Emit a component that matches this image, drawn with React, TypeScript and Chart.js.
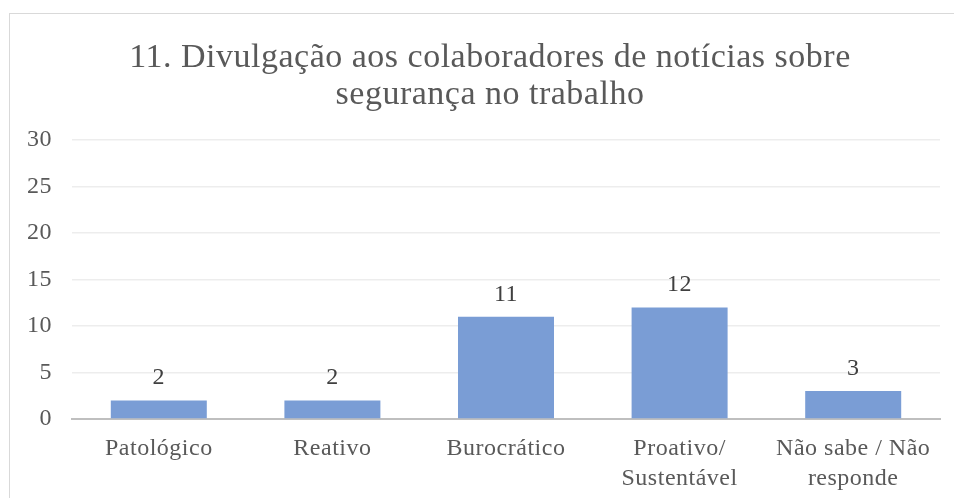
import React, { useEffect, useRef } from "react";
import { Chart, registerables } from "chart.js";

Chart.register(...registerables);

const titleLines = ["11. Divulgação aos colaboradores de notícias sobre", "segurança no trabalho"];
const categories = [["Patológico"], ["Reativo"], ["Burocrático"], ["Proativo/", "Sustentável"], ["Não sabe / Não", "responde"]];
const values = [2, 2, 11, 12, 3];
const yMin = 0;
const yMax = 30;
const yStep = 5;

const FONT = '"Liberation Serif", "Times New Roman", serif';
const SPACING = "0.5px";
const TITLE_SIZE = 34;
const TITLE_LH = 1.09;
const TITLE_PAD_TOP = 39.5;

const spacingPlugin = {
  id: "spacing",
  beforeUpdate(chart: any) {
    chart.ctx.letterSpacing = SPACING;
  },
  beforeDraw(chart: any) {
    chart.ctx.letterSpacing = SPACING;
  },
};

const titleDrawer = {
  id: "titleDrawer",
  afterDraw(chart: any) {
    const ctx = chart.ctx;
    const tb = chart.titleBlock;
    if (!tb) return;
    const lh = TITLE_SIZE * TITLE_LH;
    ctx.save();
    ctx.letterSpacing = SPACING;
    ctx.font = `${TITLE_SIZE}px ${FONT}`;
    ctx.fillStyle = "#595959";
    ctx.textAlign = "center";
    ctx.textBaseline = "middle";
    const cx = chart.width / 2 + 13;
    titleLines.forEach((line, i) => {
      ctx.fillText(line, cx, tb.top + TITLE_PAD_TOP + lh * (i + 0.5));
    });
    ctx.restore();
  },
};

const dataLabels = {
  id: "dataLabels",
  afterDatasetsDraw(chart: any) {
    const ctx = chart.ctx;
    const meta = chart.getDatasetMeta(0);
    ctx.save();
    ctx.letterSpacing = SPACING;
    ctx.font = `24px ${FONT}`;
    ctx.fillStyle = "#404040";
    ctx.textAlign = "center";
    ctx.textBaseline = "alphabetic";
    meta.data.forEach((bar: any, i: number) => {
      ctx.fillText(String(values[i]), bar.x, bar.y - 16);
    });
    ctx.restore();
  },
};

export default function App() {
  const ref = useRef<HTMLCanvasElement>(null);
  useEffect(() => {
    if (!ref.current) return;
    const chart = new Chart(ref.current, {
      type: "bar",
      data: {
        labels: categories,
        datasets: [
          {
            data: values,
            backgroundColor: "#7A9DD5",
            borderWidth: 0,
            categoryPercentage: 1,
            barPercentage: 0.553,
          },
        ],
      },
      options: {
        animation: false,
        responsive: true,
        maintainAspectRatio: false,
        layout: { padding: { left: 7, right: 14, top: 0, bottom: -11 } },
        plugins: {
          legend: { display: false },
          tooltip: { enabled: false },
          title: {
            display: true,
            text: titleLines,
            color: "rgba(0,0,0,0)",
            font: { family: FONT, size: TITLE_SIZE, weight: "normal", lineHeight: TITLE_LH },
            padding: { top: TITLE_PAD_TOP, bottom: 26.5 },
          },
        },
        scales: {
          x: {
            grid: { display: false, drawTicks: false },
            border: { display: true, color: "#BFBFBF", width: 2 },
            ticks: {
              color: "#595959",
              font: { family: FONT, size: 24, lineHeight: 1.25 },
              padding: 15,
              maxRotation: 0,
              autoSkip: false,
            },
          },
          y: {
            min: yMin,
            max: yMax,
            grid: { color: "#EDEDED", lineWidth: 1.5, drawTicks: false },
            border: { display: false },
            ticks: {
              stepSize: yStep,
              color: "#595959",
              font: { family: FONT, size: 24 },
              padding: 20,
            },
          },
        },
      },
      plugins: [spacingPlugin, dataLabels, titleDrawer],
    });
    return () => chart.destroy();
  }, []);

  return (
    <div style={{ position: "fixed", left: 0, top: 0, width: 954, height: 498, background: "#fff" }}>
      <div
        style={{
          position: "absolute",
          left: 9,
          top: 13,
          width: 960,
          height: 500,
          border: "1px solid #D9D9D9",
          boxSizing: "border-box",
        }}
      />
      <canvas ref={ref} style={{ position: "absolute", left: 0, top: 0, width: 954, height: 498 }} />
    </div>
  );
}
